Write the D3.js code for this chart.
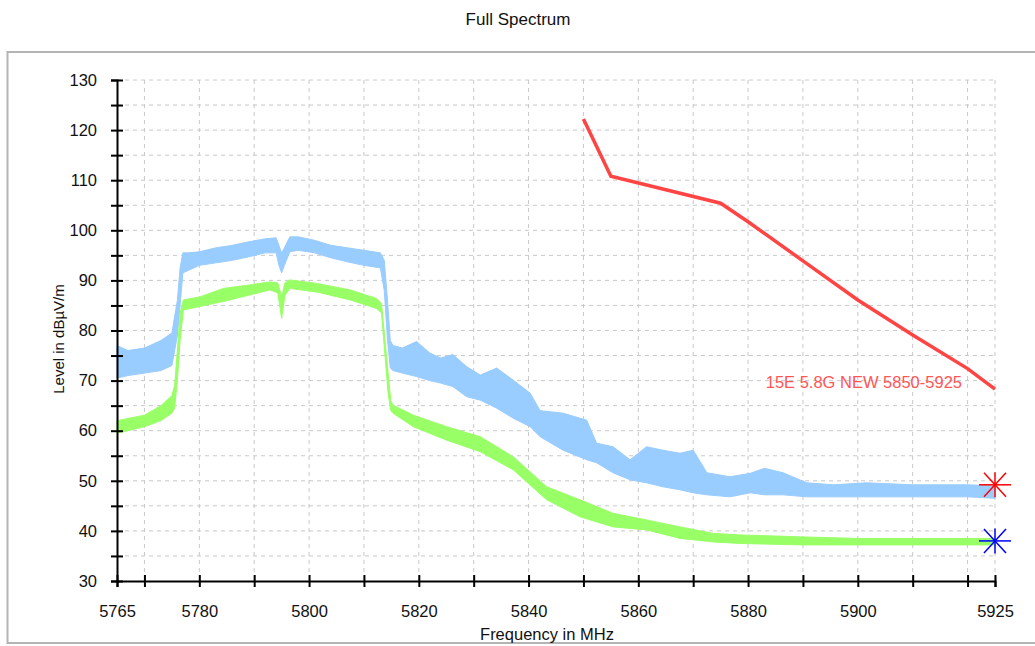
<!DOCTYPE html>
<html lang="en">
	<head>
		<meta charset="utf-8">
		<title>Full Spectrum</title>
		<script type="text/javascript" src="https://cdnjs.cloudflare.com/ajax/libs/d3/7.8.5/d3.min.js"></script>
		<style type="text/css">
			body {
				margin: 0px;
				background: white;
			}
			text {
				font-family: "Liberation Sans", Arial, Helvetica, sans-serif;
				fill: #111;
			}
		</style>
	</head>
	<body>
		<div id="chart"></div>
		<script type="text/javascript">
		//Data
			//Upper trace (light blue), envelope of the noisy band
			var blueFreq = [5765, 5767, 5770, 5773, 5775, 5776, 5776.5, 5777, 5778, 5780, 5783, 5786, 5789, 5792, 5794,
				5794.5, 5795, 5795.5, 5796.5, 5798, 5801, 5804, 5807, 5810, 5813, 5813.7, 5814.3, 5814.8, 5815.3, 5817,
				5819.6, 5822, 5824, 5826.2, 5828.7, 5831.2, 5834.2, 5837.2, 5840.3, 5842.1, 5846.3, 5850.6, 5852.4,
				5855.4, 5858.5, 5861.5, 5864.5, 5867.6, 5870, 5872.5, 5876.7, 5880.4, 5883, 5886.4, 5890.7, 5895.5,
				5901.6, 5910, 5920, 5925];
			var blueLow = [70.5, 71, 71.5, 72, 73, 79, 85, 91.5, 92, 93, 93.5, 94, 94.7, 95.5, 95.5,
				93, 91.5, 93, 95.7, 96, 95.5, 94.5, 93.7, 93, 92.5, 88, 78, 72.5, 72, 71.5,
				70.8, 70, 69.5, 68.8, 66.8, 66.1, 64.5, 62.5, 60.8, 58.8, 56.1, 54.2, 53.6,
				51.6, 50.2, 49.6, 48.8, 48.2, 47.6, 47.2, 46.8, 47.6, 47.2, 47.2, 46.8, 46.8,
				46.8, 46.8, 46.8, 46.5];
			var blueHigh = [77, 76, 76.5, 78, 79.5, 86, 92.5, 95.5, 95.5, 95.7, 96.5, 97, 97.7, 98.3, 98.5,
				97, 95.5, 96.5, 98.7, 98.7, 98, 97, 96.5, 96, 95.5, 94, 86, 78, 77, 76.5,
				77.8, 75.5, 74.5, 75.2, 72.8, 71.1, 72.5, 70.1, 67.5, 64, 63.5, 62.1, 57.5,
				56.8, 54.2, 56.8, 56.1, 55.5, 56.1, 51.6, 50.8, 51.5, 52.5, 51.6, 49.6, 49.2,
				49.6, 49.2, 49.2, 49];

			//Lower trace (green), envelope of the noisy band
			var greenFreq = [5765, 5770, 5773, 5775, 5775.5, 5776, 5776.5, 5777.1, 5780.1, 5784.4, 5789.2, 5792.9,
				5794.3, 5795, 5795.6, 5796.5, 5801.4, 5807.5, 5812.3, 5813.2, 5813.8, 5814.4, 5814.9, 5815.3, 5819,
				5825.1, 5831.2, 5837.2, 5843.3, 5849.4, 5855.4, 5861.5, 5867.6, 5873.7, 5878.5, 5890, 5900, 5925];
			var greenLow = [59.5, 60.8, 62, 63.5, 64.5, 70, 78, 84.1, 84.8, 85.8, 87.1, 88.1,
				87.5, 82.4, 87, 88.4, 87.7, 86.1, 84.4, 83.5, 75.5, 67.5, 64, 63.5, 60.8,
				58.1, 55.8, 52.2, 46.2, 42.8, 40.8, 40.2, 38.5, 37.8, 37.5, 37.2, 37.2, 37.2];
			var greenHigh = [62, 63.1, 65, 67, 69, 76, 83.5, 86.1, 86.7, 88.4, 89.1, 89.7,
				89.5, 86.7, 89.5, 90.1, 89.4, 88.1, 86.4, 85.4, 78.5, 71.5, 66, 65.1, 63.1,
				60.8, 58.8, 54.8, 48.8, 46.2, 43.5, 42.2, 40.8, 39.5, 39.2, 38.8, 38.5, 38.5];

			//Limit line
			var limitFreq = [5850, 5855, 5875, 5880, 5890, 5900, 5910, 5920, 5925];
			var limitLevel = [122.2, 110.8, 105.4, 101.7, 93.9, 86.1, 79.1, 72.4, 68.3];
			var limitName = "15E 5.8G NEW 5850-5925";

			//Markers
			var markerFreq = [5925, 5925];
			var markerLevel = [49.2, 38];
			var markerColor = ["#ff0000", "#0000ff"];

			//Axis ticks
			var xTicks = [5765].concat(d3.range(5770, 5921, 10), [5925]);
			var xLabels = [5765, 5780, 5800, 5820, 5840, 5860, 5880, 5900, 5925];
			var yTicks = d3.range(30, 131, 5);
			var yLabels = d3.range(30, 131, 10);

		//Overall setup
			var w = 1035;
			var h = 646;

			var svg = d3.select("#chart")
				.append("svg")
				.attr("width", w)
				.attr("height", h);

			//Plot frame
			svg.append("rect")
				.attr("x", 7.5)
				.attr("y", 52)
				.attr("width", 1040)
				.attr("height", 591)
				.attr("fill", "white")
				.attr("stroke", "#b4b4b4")
				.attr("stroke-width", 2);

			svg.append("text")
				.attr("x", 518)
				.attr("y", 25)
				.attr("text-anchor", "middle")
				.attr("font-size", "17px")
				.text("Full Spectrum");

			var x = d3.scaleLinear()
				.domain([5765, 5925])
				.range([117, 995]);

			var y = d3.scaleLinear()
				.domain([30, 130])
				.range([581, 80]);

		//Grid
			svg.append("g")
				.selectAll("line")
				.data(yTicks.filter(function(d){ return d > 30; }))
				.enter()
				.append("line")
				.attr("x1", x(5765))
				.attr("x2", x(5925))
				.attr("y1", function(d){ return y(d); })
				.attr("y2", function(d){ return y(d); })
				.attr("stroke", "#c8c8c8")
				.attr("stroke-dasharray", "4,4");

			svg.append("g")
				.selectAll("line")
				.data(xTicks.filter(function(d){ return d > 5765; }))
				.enter()
				.append("line")
				.attr("x1", function(d){ return x(d); })
				.attr("x2", function(d){ return x(d); })
				.attr("y1", y(130))
				.attr("y2", y(30))
				.attr("stroke", "#c8c8c8")
				.attr("stroke-dasharray", "4,4");

		//Traces
			var blue = blueFreq.map(function(f, i){ return {f: f, lo: blueLow[i], hi: blueHigh[i]}; });
			var green = greenFreq.map(function(f, i){ return {f: f, lo: greenLow[i], hi: greenHigh[i]}; });

			var band = d3.area()
				.x(function(d){ return x(d.f); })
				.y0(function(d){ return y(d.lo); })
				.y1(function(d){ return y(d.hi); });

			svg.append("path")
				.datum(blue)
				.attr("d", band)
				.attr("fill", "#99ccff")
				.attr("stroke", "#99ccff")
				.attr("stroke-width", 1);

			svg.append("path")
				.datum(green)
				.attr("d", band)
				.attr("fill", "#99ff66")
				.attr("stroke", "#99ff66")
				.attr("stroke-width", 1);

			var limit = limitFreq.map(function(f, i){ return {f: f, v: limitLevel[i]}; });

			svg.append("path")
				.datum(limit)
				.attr("d", d3.line()
					.x(function(d){ return x(d.f); })
					.y(function(d){ return y(d.v); }))
				.attr("fill", "none")
				.attr("stroke", "#ff4444")
				.attr("stroke-width", 3.5);

			svg.append("text")
				.attr("x", 962)
				.attr("y", 388)
				.attr("text-anchor", "end")
				.attr("font-size", "16.5px")
				.style("fill", "#ff5555")
				.text(limitName);

		//Axes
			var xAxisCall = d3.axisBottom(x)
				.tickValues(xTicks)
				.tickSize(6)
				.tickPadding(18)
				.tickFormat(function(d){ return xLabels.indexOf(d) >= 0 ? d : ""; });

			var xg = svg.append("g")
				.attr("transform", "translate(0, " + y(30) + ")")
				.call(xAxisCall);

			var yAxisCall = d3.axisLeft(y)
				.tickValues(yTicks)
				.tickSize(6)
				.tickPadding(14)
				.tickFormat(function(d){ return yLabels.indexOf(d) >= 0 ? d : ""; });

			var yg = svg.append("g")
				.attr("transform", "translate(" + x(5765) + ", 0)")
				.call(yAxisCall);

			//ticks cross the axis line
			xg.selectAll(".tick line").attr("y1", -6).attr("y2", 6);
			yg.selectAll(".tick line").attr("x1", -6).attr("x2", 6);

			[xg, yg].forEach(function(g){
				g.select(".domain").attr("stroke", "#000").attr("stroke-width", 2);
				g.selectAll(".tick line").attr("stroke", "#000").attr("stroke-width", 2);
				g.selectAll(".tick text")
					.attr("font-size", "16.5px")
					.attr("font-family", "'Liberation Sans', Arial, sans-serif")
					.style("fill", "#111");
			});

			svg.append("text")
				.attr("x", 547)
				.attr("y", 640)
				.attr("text-anchor", "middle")
				.attr("font-size", "16.5px")
				.text("Frequency in MHz");

			svg.append("text")
				.attr("transform", "translate(63.5, 339) rotate(-90)")
				.attr("text-anchor", "middle")
				.attr("font-size", "15px")
				.text("Level in dB\u00b5V/m");

		//Markers (asterisks)
			var markers = markerFreq.map(function(f, i){ return {f: f, v: markerLevel[i], c: markerColor[i]}; });

			var arms = [[-16, 0, 16, 0], [0, -12.5, 0, 12.5], [-11, -12, 11, 12], [-11, 12, 11, -12]];

			svg.selectAll(".marker")
				.data(markers)
				.enter()
				.append("g")
				.attr("class", "marker")
				.attr("transform", function(d){ return "translate(" + x(d.f) + "," + y(d.v) + ")"; })
				.each(function(d){
					d3.select(this).selectAll("line")
						.data(arms)
						.enter()
						.append("line")
						.attr("x1", function(a){ return a[0]; })
						.attr("y1", function(a){ return a[1]; })
						.attr("x2", function(a){ return a[2]; })
						.attr("y2", function(a){ return a[3]; })
						.attr("stroke", d.c)
						.attr("stroke-width", 1.5);
				});
		</script>
	</body>
</html>
